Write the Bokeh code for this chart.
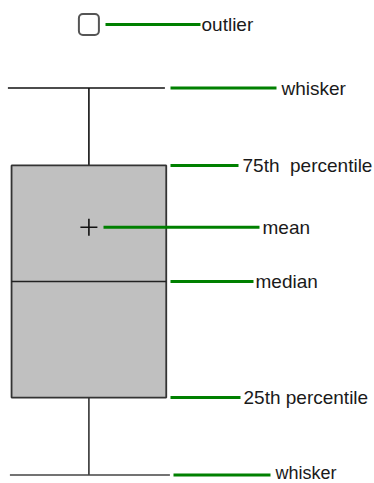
from bokeh.plotting import figure
from bokeh.models import Range1d, ColumnDataSource
from bokeh.core.properties import value
from bokeh.embed import file_html
from bokeh.resources import INLINE

# ---- box-plot statistics (value units) ----
outlier = [11.64]
whisker_high = [10.0]
q3 = [8.0]
mean = [6.4]
median = [5.0]
q1 = [2.0]
whisker_low = [0.0]
group_x = [88.4]

# ---- annotation labels (top to bottom) ----
labels = ["outlier", "whisker", "75th\u00a0 percentile", "mean", "median",
          "25th percentile", "whisker"]
label_values = outlier + whisker_high + q3 + mean + median + q1 + whisker_low

# layout of leader lines / labels (pixels)
leader_start = [105, 170, 170, 103, 170, 170, 173]
leader_end = [200, 276, 238, 259, 253, 240, 270]
label_x = [201, 281, 242, 262, 255, 243, 275]
label_dy = [0, 0, 0, 0, 0, 0, 2.5]      # pixel nudge upward
label_size = ["19px", "19px", "19px", "19px", "19px", "19px", "18px"]

PX_PER_UNIT = 38.7
ZERO_PX = 474.5          # pixel row of value 0
W, H = 374, 483

p = figure(width=W, height=H, output_backend="svg", toolbar_location=None,
           x_range=Range1d(0, W),
           y_range=Range1d((ZERO_PX - H) / PX_PER_UNIT, ZERO_PX / PX_PER_UNIT),
           min_border=0, background_fill_color="white")
p.axis.visible = False
p.grid.visible = False
p.outline_line_color = None

box_w = 154.7
cap_w = 158
cx = group_x[0]

# whisker stems
p.segment(x0=group_x, y0=q3, x1=group_x, y1=whisker_high,
          line_color="#111111", line_width=1.6)
p.segment(x0=group_x, y0=whisker_low, x1=group_x, y1=q1,
          line_color="#333333", line_width=1.6)
# whisker caps
p.segment(x0=[cx - cap_w / 2 - 2], y0=whisker_high, x1=[cx + cap_w / 2 - 3], y1=whisker_high,
          line_color="#111111", line_width=1.4)
p.segment(x0=[cx - cap_w / 2], y0=whisker_low, x1=[cx + cap_w / 2 + 2], y1=whisker_low,
          line_color="#444444", line_width=1.6)

# box
p.quad(left=[cx - box_w / 2], right=[cx + box_w / 2], bottom=q1, top=q3,
       fill_color="#c0c0c0", line_color="#333333", line_width=1.8)
# median
p.segment(x0=[cx - box_w / 2], y0=median, x1=[cx + box_w / 2], y1=median,
          line_color="#222222", line_width=1.6)
# mean
p.scatter(x=group_x, y=mean, marker="cross", size=17, line_color="#111111",
          line_width=1.6)
# outlier
p.quad(left=[cx - 10], right=[cx + 10],
       bottom=[outlier[0] - 10.5 / PX_PER_UNIT], top=[outlier[0] + 10.5 / PX_PER_UNIT],
       fill_color="white", line_color="#555555", line_width=2, border_radius=4)

label_y = [v + d / PX_PER_UNIT for v, d in zip(label_values, label_dy)]
src = ColumnDataSource(dict(x0=leader_start, x1=leader_end, y=label_values,
                            ly=label_y, lx=label_x, text=labels, size=label_size))
p.segment(x0="x0", y0="y", x1="x1", y1="y", source=src,
          line_color="#008000", line_width=3)
p.text(x="lx", y="ly", text="text", source=src, text_font=value("Liberation Sans"),
       text_font_size="size", text_baseline="middle", text_align="left",
       text_color="#1a1a1a")

open("out.html", "w").write(file_html(p, INLINE))
